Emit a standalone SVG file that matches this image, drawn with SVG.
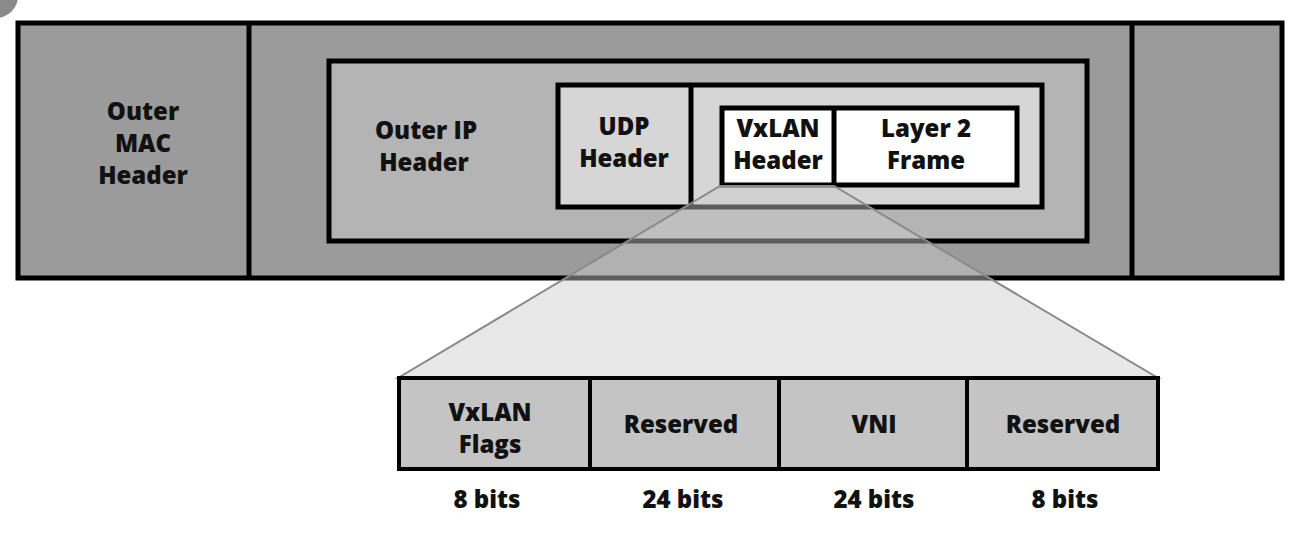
<svg xmlns="http://www.w3.org/2000/svg" width="1315" height="538" viewBox="0 0 1315 538">
<style>
.box{stroke:#000;stroke-width:5}
.t{font-family:"Open Sans","Liberation Sans",sans-serif;font-weight:800;font-size:24px;fill:#111;text-anchor:middle}
.cell{fill:#c4c4c4;stroke:#000;stroke-width:4}
</style>
<rect width="1315" height="538" fill="#fff"/>
<circle cx="-4" cy="-4" r="22" fill="#8a8a8a"/>
<g id="frame">
<rect class="box" x="18" y="23" width="1264" height="255" fill="#9b9b9b"/>
<line class="box" x1="249" y1="23" x2="249" y2="278"/>
<line class="box" x1="1132" y1="23" x2="1132" y2="278"/>
</g>
<g id="outer-mac"><text class="t" x="143" y="120">Outer</text><text class="t" x="143" y="152">MAC</text><text class="t" x="143" y="184">Header</text></g>
<g id="outer-ip">
<rect class="box" x="329" y="61" width="758" height="180" fill="#b4b4b4"/>
<text class="t" x="426" y="139">Outer IP</text><text class="t" x="424" y="171">Header</text>
</g>
<g id="udp-container"><rect class="box" x="558" y="85" width="484" height="122" fill="#d6d6d6"/></g>
<g id="udp"><line class="box" x1="691" y1="85" x2="691" y2="207"/>
<text class="t" x="624" y="135">UDP</text><text class="t" x="624" y="167">Header</text></g>
<g id="vxlan-container"><rect class="box" x="722" y="108" width="295" height="77" fill="#fff"/></g>
<g id="vxlan-header"><line class="box" x1="834" y1="108" x2="834" y2="185"/>
<text class="t" x="778" y="137">VxLAN</text><text class="t" x="778" y="169">Header</text></g>
<g id="layer2"><text class="t" x="926" y="137">Layer 2</text><text class="t" x="926" y="169">Frame</text></g>
<g id="connectors">
<polygon points="720,186 834,186 1158,378 398,378" fill="#cccccc" fill-opacity="0.45" stroke="#8a8a8a" stroke-width="2"/>
</g>
<g id="fields">
<rect class="cell" x="399" y="378" width="759" height="91"/>
<line stroke="#000" stroke-width="4" x1="590" y1="378" x2="590" y2="469"/>
<line stroke="#000" stroke-width="4" x1="779" y1="378" x2="779" y2="469"/>
<line stroke="#000" stroke-width="4" x1="967" y1="378" x2="967" y2="469"/>
<g id="f-flags"><text class="t" x="490" y="421">VxLAN</text><text class="t" x="490" y="453">Flags</text><text class="t" x="487" y="508">8 bits</text></g>
<g id="f-res1"><text class="t" x="681" y="433">Reserved</text><text class="t" x="683" y="508">24 bits</text></g>
<g id="f-vni"><text class="t" x="874" y="433">VNI</text><text class="t" x="874" y="508">24 bits</text></g>
<g id="f-res2"><text class="t" x="1063" y="433">Reserved</text><text class="t" x="1065" y="508">8 bits</text></g>
</g>
</svg>
